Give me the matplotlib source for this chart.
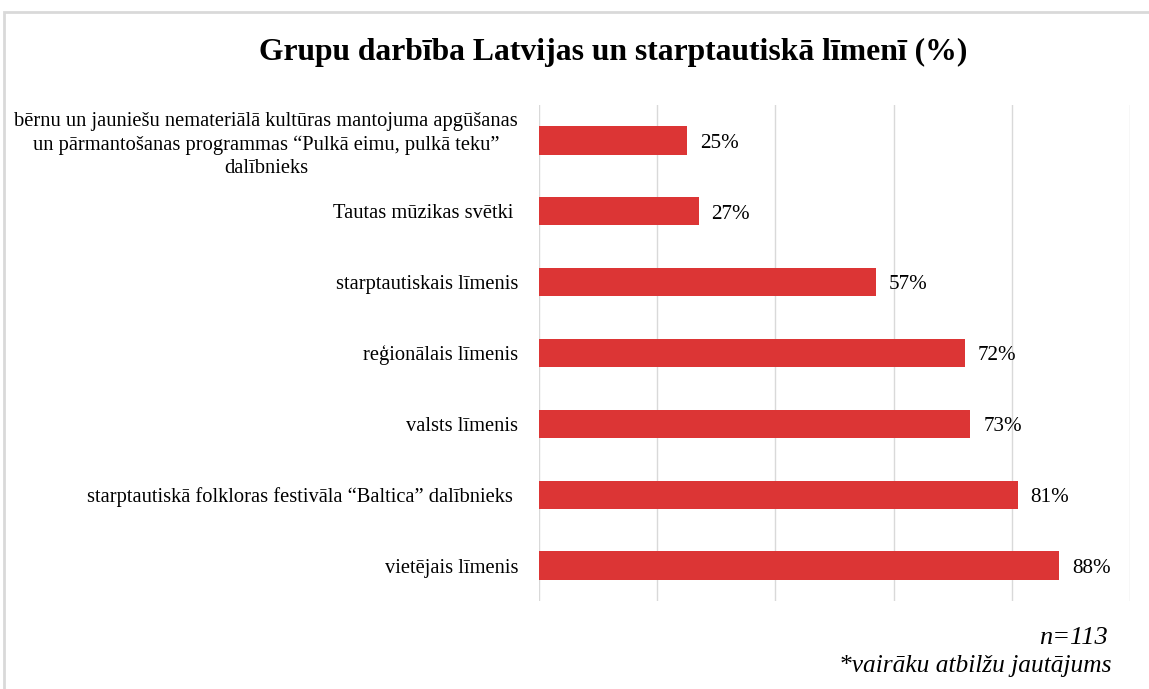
import matplotlib
matplotlib.use('Agg')
import matplotlib.pyplot as plt
from matplotlib.patches import Rectangle

plt.rcParams['font.family'] = ['Liberation Serif', 'DejaVu Serif']

# data, top to bottom as in the chart
categories = [
    'bērnu un jauniešu nemateriālā kultūras mantojuma apgūšanas\n'
    'un pārmantošanas programmas “Pulkā eimu, pulkā teku”\ndalībnieks',
    'Tautas mūzikas svētki ',
    'starptautiskais līmenis',
    'reģionālais līmenis',
    'valsts līmenis',
    'starptautiskā folkloras festivāla “Baltica” dalībnieks ',
    'vietējais līmenis',
]
values = [25, 27, 57, 72, 73, 81, 88]

title = 'Grupu darbība Latvijas un starptautiskā līmenī (%)'
note_n = 'n=113'
note_multi = '*vairāku atbilžu jautājums'

bar_color = '#DC3535'
grid_color = '#D9D9D9'

fig = plt.figure(figsize=(11.49, 6.89), dpi=100)
ax = fig.add_axes([0.4691, 0.1277, 0.5144, 0.7199])

ypos = list(range(len(categories)))
ax.barh(ypos, values, height=0.4, color=bar_color, zorder=3)
ax.set_ylim(len(categories) - 0.5, -0.5)
ax.set_xlim(0, 100)
ax.set_xticks(range(0, 101, 20))
ax.xaxis.grid(True, color=grid_color, linewidth=1, zorder=0)
ax.tick_params(axis='x', length=0, labelbottom=False)
ax.tick_params(axis='y', length=0, pad=15, labelsize=14.8)
ax.set_yticks(ypos)
ax.set_yticklabels(categories, multialignment='center', linespacing=1.3)
for s in ax.spines.values():
    s.set_visible(False)

for y, v in zip(ypos, values):
    ax.text(v + 2.2, y + 0.04, '%d%%' % v, va='center', ha='left', fontsize=15.2)

fig.text(0.5335, 0.924, title, ha='center', va='center', fontsize=22.8, fontweight='bold')
fig.text(0.964, 0.074, note_n, ha='right', va='center', fontsize=19, style='italic')
fig.text(0.967, 0.034, note_multi, ha='right', va='center', fontsize=18.3, style='italic')

# chart frame (cropped at right and bottom)
top = 1 - 12 / 689
fig.patches.append(Rectangle((4 / 1149, -0.05), 1.2, top + 0.05, transform=fig.transFigure,
                             fill=False, edgecolor='#D9D9D9', linewidth=2))

fig.savefig('out.png', dpi=100)
